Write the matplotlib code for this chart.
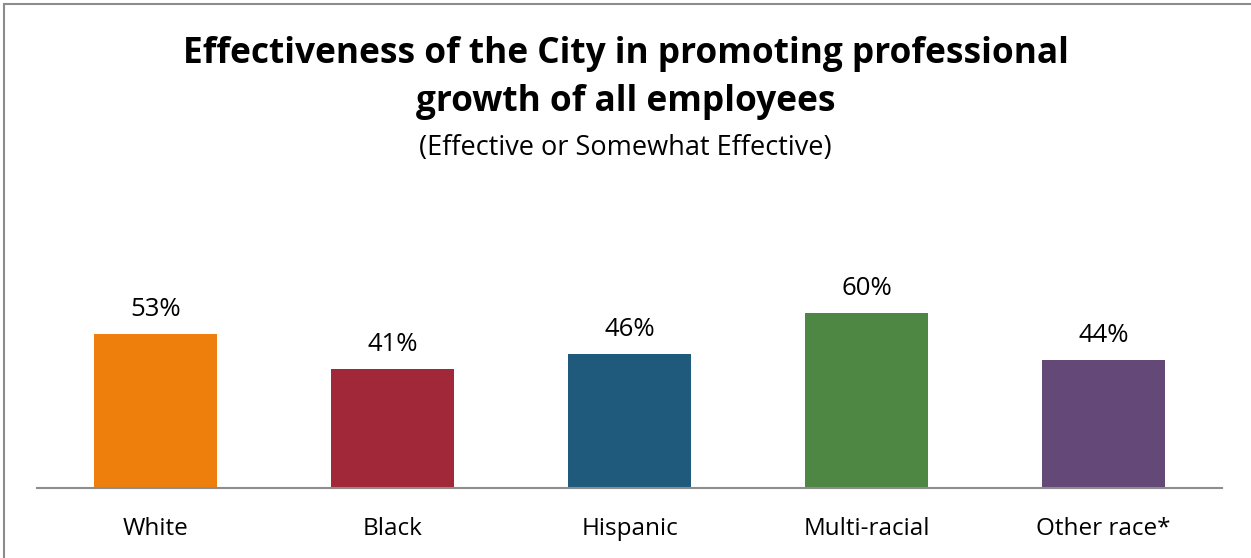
import numpy as np
import matplotlib.pyplot as plt
from matplotlib.patches import Rectangle

plt.rcParams['font.family'] = ['Open Sans', 'DejaVu Sans']

# dati
categorie = ['White', 'Black', 'Hispanic', 'Multi-racial', 'Other race*']
valori = [0.53, 0.41, 0.46, 0.60, 0.44]
colori = ['#EF7F0C', '#A12838', '#1F5A7C', '#4E8643', '#634878']

fig = plt.figure(figsize=(12.51, 5.58), dpi=100)
ax = fig.add_axes([37/1251, 70/558, 1185/1251, 204/558])

x = np.arange(len(categorie))
ax.bar(x, valori, width=0.52, color=colori)
for xi, v in zip(x, valori):
    ax.text(xi, v + 0.04, '%d%%' % round(v*100), ha='center', va='bottom', fontsize=18.5)

ax.set_xlim(-0.5, 4.5)
ax.set_ylim(0, 0.70)
ax.set_yticks([])
ax.set_xticks(x)
ax.set_xticklabels(categorie, fontsize=17.5)
ax.tick_params(axis='x', length=0, pad=21)
for s in ['top', 'right', 'left']:
    ax.spines[s].set_visible(False)
ax.spines['bottom'].set_color('#8c8c8c')
ax.spines['bottom'].set_linewidth(1.5)

# titolo e sottotitolo
fig.text(0.5, 1 - 54/558, 'Effectiveness of the City in promoting professional',
         ha='center', va='center', fontsize=25.4, fontweight='bold')
fig.text(0.5, 1 - 102/558, 'growth of all employees',
         ha='center', va='center', fontsize=25.4, fontweight='bold')
fig.text(0.5, 1 - 148/558, '(Effective or Somewhat Effective)',
         ha='center', va='center', fontsize=19.5)

# bordo del grafico (solo sopra e a sinistra sono visibili)
fig.patches.append(Rectangle((4/1251, -0.1), 1.2, 1.1 - 4/558, transform=fig.transFigure,
                             fill=False, edgecolor='#8c8c8c', linewidth=1.5))

plt.savefig('out.png', dpi=100)
